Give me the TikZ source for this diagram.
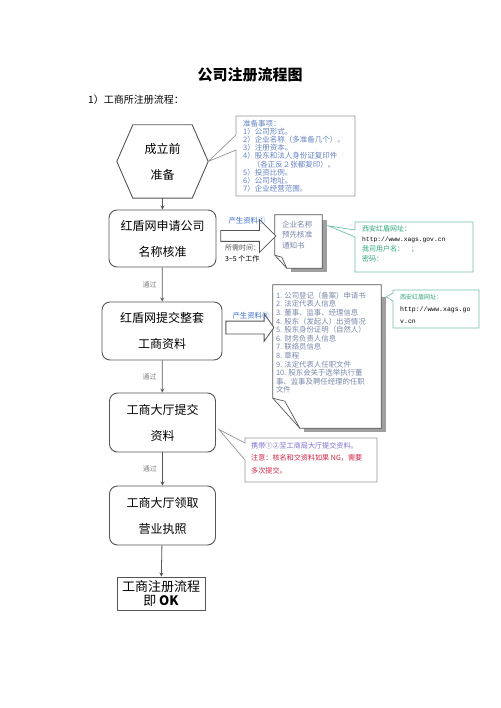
\documentclass[tikz,border=0pt]{standalone}
\usepackage{fontspec}
\setmainfont{Noto Sans CJK SC}
\newfontfamily\urlfont{Liberation Mono}
\usepackage{tikz}
\usetikzlibrary{shapes.arrows, arrows, calc}

\definecolor{linegray}{RGB}{85,85,85}
\definecolor{notegray}{RGB}{150,150,150}
\definecolor{noteblue}{RGB}{100,130,195}
\definecolor{labelblue}{RGB}{55,110,205}
\definecolor{docgray}{RGB}{120,135,170}
\definecolor{noteteal}{RGB}{115,190,175}
\definecolor{notegreen}{RGB}{45,165,120}
\definecolor{notered}{RGB}{210,35,70}
\definecolor{notepurple}{RGB}{125,110,205}

\tikzstyle{prepare} = [minimum width=91pt, minimum height=73pt, align=center, font=\fontsize{12}{26}\selectfont]
\tikzstyle{process} = [rectangle, rounded corners=8pt, minimum width=107pt, minimum height=57pt, align=center, draw=linegray, line width=0.9pt, font=\fontsize{12}{26}\selectfont]
\tikzstyle{finish} = [rectangle, minimum width=88pt, minimum height=33pt, inner sep=1pt, align=center, draw=linegray, line width=0.9pt, font=\fontsize{13}{14}\selectfont]
\tikzstyle{arrow} = [linegray, line width=0.8pt, ->, >=stealth]
\tikzstyle{bigarrow} = [single arrow, draw=linegray, fill=white, line width=0.8pt, inner xsep=0pt, inner ysep=5pt, single arrow head extend=11pt]
\tikzstyle{docbox} = [rectangle, inner sep=0pt]
\tikzstyle{docline} = [draw=linegray, line width=0.7pt, fill=white]
\tikzstyle{docshadow} = [fill=gray!75]
\tikzstyle{noteline} = [line width=0.7pt, fill=white]
\tikzstyle{smalltext} = [inner sep=0pt, anchor=north west, align=left]
\tikzstyle{labeltext} = [inner sep=0pt, text=labelblue, font=\fontsize{7.4}{8}\selectfont]
\tikzstyle{passlabel} = [text=gray, font=\fontsize{7}{8}\selectfont]

\begin{document}
\begin{tikzpicture}[x=1pt, y=-1pt]
    \useasboundingbox (0,0) rectangle (500,708);

    %title
    \node (title) [font=\bfseries\fontsize{15}{16}\selectfont] at (250,75) {公司注册流程图};
    \node (subtitle) [anchor=west, inner sep=0pt, font=\fontsize{10}{12}\selectfont] at (88,100) {1）工商所注册流程：};

    %nodes
    \node (prep) [prepare] at (162.5,161.5) {成立前\\准备};
    \node (box1) [process] at (162.5,238.5) {红盾网申请公司\\名称核准};
    \node (box2) [process, minimum width=120pt, minimum height=58pt] at (162,331) {红盾网提交整套\\工商资料};
    \node (box3) [process, minimum width=106pt, minimum height=59pt] at (162.5,422.5) {工商大厅提交\\资料};
    \node (box4) [process, minimum width=106pt, minimum height=59pt] at (162.5,515.5) {工商大厅领取\\营业执照};
    \node (done) [finish] at (161,593.5) {工商注册流程\\即 \textbf{OK}};
    \draw [linegray, line width=0.9pt] (prep.west) -- ([xshift=16pt]prep.north west) -- ([xshift=-16pt]prep.north east) -- (prep.east) -- ([xshift=-16pt]prep.south east) -- ([xshift=16pt]prep.south west) -- cycle;

    %documents
    \node (doc1) [docbox, minimum width=47pt, minimum height=53pt] at (298.5,241.5) {};
    \node (doc2) [docbox, minimum width=108pt, minimum height=143pt] at (327,356.5) {};
    \fill [docshadow] ($(doc1.north west)+(16,5)$) rectangle ($(doc1.south east)+(5,4)$);
    \draw [docline] (doc1.north west) -- (doc1.north east) -- (doc1.south east) -- ([xshift=12pt]doc1.south west) -- ([yshift=13pt]doc1.south west) -- cycle;
    \draw [docline, fill=none] ([yshift=13pt]doc1.south west) -- ([xshift=7pt, yshift=11pt]doc1.south west) -- ([xshift=12pt]doc1.south west);
    \fill [docshadow] ($(doc2.north west)+(31,12)$) rectangle ($(doc2.south east)+(5,4)$);
    \draw [docline] (doc2.north west) -- (doc2.north east) -- (doc2.south east) -- ([xshift=27pt]doc2.south west) -- ([yshift=30pt]doc2.south west) -- cycle;
    \draw [docline, fill=none] ([yshift=30pt]doc2.south west) -- ([xshift=12pt, yshift=27pt]doc2.south west) -- ([xshift=27pt]doc2.south west);

    %notes
    \draw [noteline, draw=notegray] (prep.east) -- (236,135) |- (355,116) |- (236,196) -- (236,150) -- cycle;
    \draw [noteline, draw=noteteal] ($(doc1.north east)+(6,11)$) -- (355,230) |- (473,222) |- (355,272) -- (355,237) -- cycle;
    \draw [noteline, draw=noteteal] ($(doc2.north east)+(5,12)$) -- (393,293) |- (479,290) |- (393,328) -- (393,301) -- cycle;
    \draw [noteline, draw=notegray] ($(box3.east)+(3,7)$) -- (245,443) |- (377,438) |- (245,482) -- (245,460) -- cycle;

    %arrows
    \draw [arrow] (prep) -- (box1);
    \draw [arrow] (box1) -- node[left, passlabel, xshift=-2pt] {通过} (box2);
    \draw [arrow] (box2) -- node[left, passlabel, xshift=-2pt] {通过} (box3);
    \draw [arrow] (box3) -- node[left, passlabel, xshift=-2pt] {通过} (box4);
    \draw [arrow] (box4) -- (done);

    \node (arr1) [bigarrow, minimum height=55pt, yshift=2.5pt] at ($(box1.east)!0.5!(doc1.west |- box1.east)$) {};
    \node (arr2) [bigarrow, minimum height=48pt, inner ysep=6pt, single arrow head extend=7.5pt, single arrow tip angle=110, yshift=3.5pt] at ($(box2.east)!0.5!(doc2.west |- box2.east)$) {};
    \node (lab1) [labeltext] at (247,221) {产生资料①};
    \node (lab2) [labeltext] at (251,316) {产生资料②};

    %texts
    \node (note1) [smalltext, text=noteblue, font=\fontsize{7.5}{8.1}\selectfont] at (243,120) {准备事项：\\1）公司形式。\\2）企业名称（多准备几个）。\\3）注册资本。\\4）股东和法人身份证复印件\\\hspace{1.3em}（各正反２张都复印）。\\5）投资比例。\\6）公司地址。\\7）企业经营范围。};
    \node (doc1text) [smalltext, text=docgray, font=\fontsize{7.6}{10.5}\selectfont] at ([xshift=7pt, yshift=-6pt]doc1.north west) {企业名称\\预先核准\\通知书};
    \node (doc2text) [smalltext, text=docgray, font=\fontsize{7.4}{8.6}\selectfont] at ([xshift=3pt, yshift=-7pt]doc2.north west) {1. 公司登记（备案）申请书\\2. 法定代表人信息\\3. 董事、监事、经理信息\\4. 股东（发起人）出资情况\\5. 股东身份证明（自然人）\\6. 财务负责人信息\\7. 联络员信息\\8. 章程\\9. 法定代表人任职文件\\10. 股东会关于选举执行董\\事、监事及聘任经理的任职\\文件};
    \node (note2) [smalltext, font=\fontsize{7}{10}\selectfont] at (362,225) {\textcolor{notegreen}{西安红盾网址：}\\{\urlfont\fontsize{6.3}{10}\selectfont http://www.xags.gov.cn}\\\textcolor{notegreen}{我司用户名：\quad ；}\\\textcolor{notegreen}{密码：}};
    \node (note3) [smalltext, font=\fontsize{6}{12}\selectfont] at (400,294) {\textcolor{notegreen}{西安红盾网址：}\\{\urlfont\fontsize{6.5}{12}\selectfont http://www.xags.go}\\{\urlfont\fontsize{6.5}{12}\selectfont v.cn}};
    \node (note4) [smalltext, font=\fontsize{7.1}{12.5}\selectfont] at (251,442) {\textcolor{notepurple}{携带①②至工商局大厅提交资料。}\\\textcolor{notered}{注意：核名和交资料如果 NG，需要}\\\textcolor{notered}{多次提交。}};
    \node (time1) [smalltext, font=\fontsize{7}{11}\selectfont] at (225,244) {\textcolor{linegray}{所需时间：}\\3\textasciitilde 5 个工作};
\end{tikzpicture}
\end{document}
